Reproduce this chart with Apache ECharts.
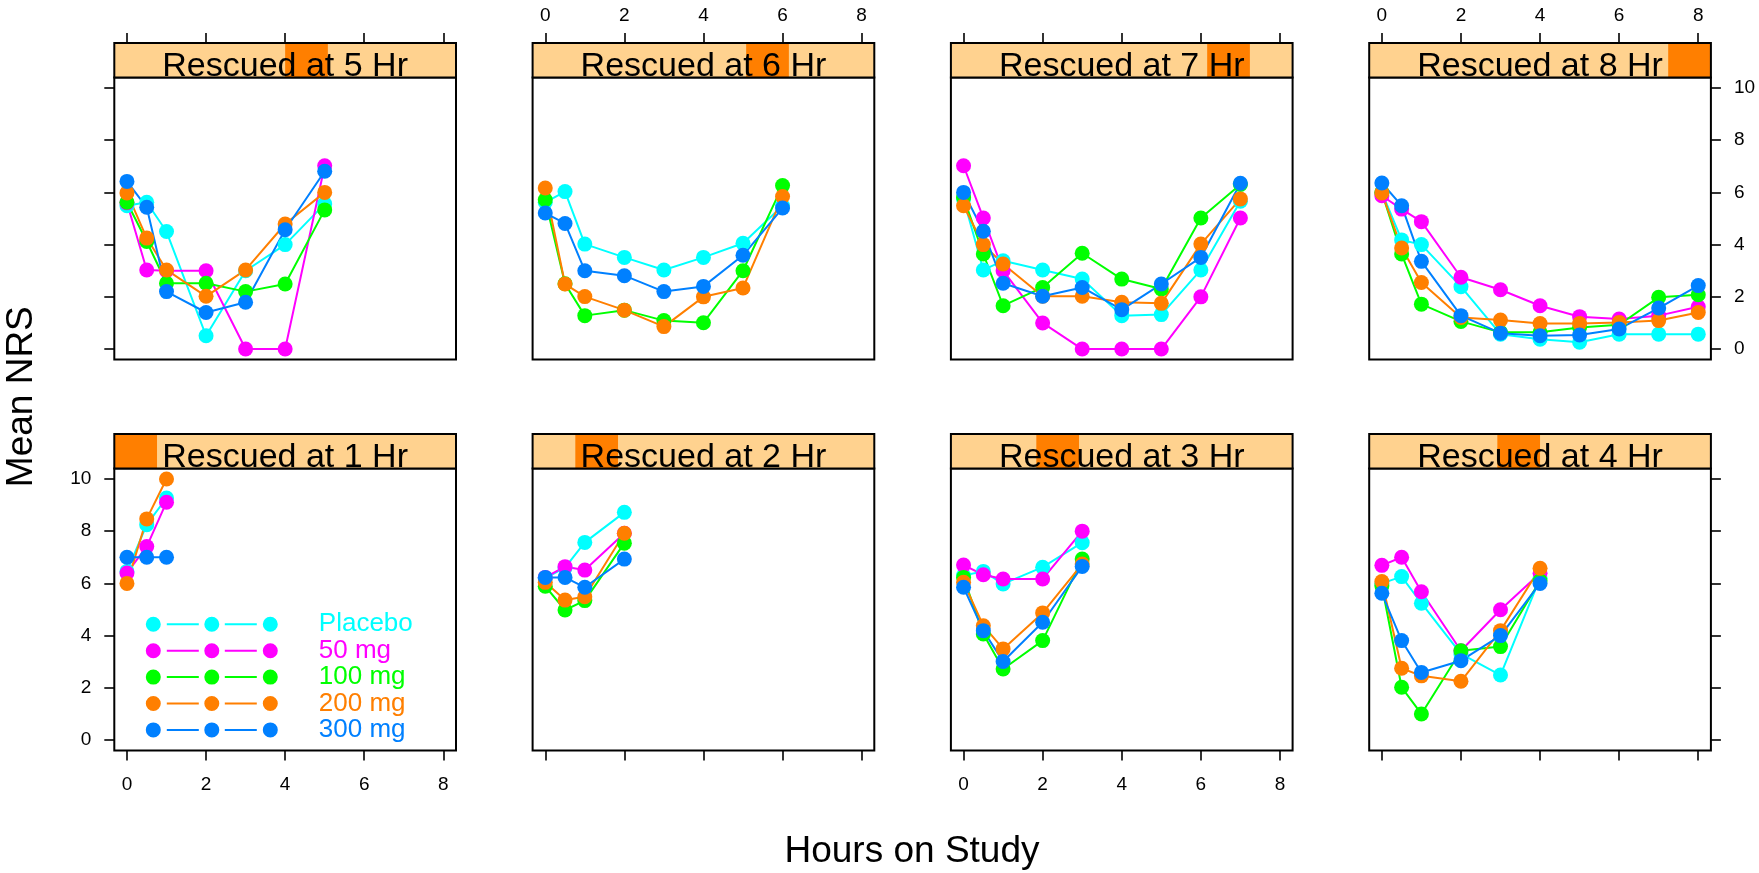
<!DOCTYPE html>
<html lang="en" style="height:100%">
<head>
    <meta charset="UTF-8">
    <title>Mean NRS by rescue time</title>
    <script src="https://cdn.jsdelivr.net/npm/echarts@6/dist/echarts.min.js"></script>
</head>
<body style="height:100%; margin:0; background:#fff">
<div id="container" style="width:1759px; height:873px"></div>
<script type="text/javascript">

    // time points (hours on study)
    var hours = [0, 0.5, 1, 2, 3, 4, 5, 6, 7, 8];
    var groupNames = ['Placebo', '50 mg', '100 mg', '200 mg', '300 mg'];
    var groupColors = ['#00FFFF', '#FF00FF', '#00FF00', '#FF7F00', '#0080FF'];
    var xTicks = [0, 2, 4, 6, 8];
    var yTicks = [0, 2, 4, 6, 8, 10];

    // mean NRS per group (Placebo, 50, 100, 200, 300 mg), one array per rescue hour
    var rescue1 = [
        [6.46, 8.25, 9.27],
        [6.4, 7.41, 9.11],
        null,
        [6.0, 8.47, 10.0],
        [7.0, 7.0, 7.0]
    ];
    var rescue2 = [
        [6.2, 6.6, 7.57, 8.72],
        [6.23, 6.64, 6.51, 7.92],
        [5.89, 4.98, 5.34, 7.54],
        [6.04, 5.36, 5.49, 7.92],
        [6.23, 6.23, 5.85, 6.93]
    ];
    var rescue3 = [
        [6.3, 6.46, 5.98, 6.62, 7.56],
        [6.7, 6.33, 6.17, 6.17, 8.0],
        [6.23, 4.06, 2.72, 3.81, 6.93],
        [6.04, 4.38, 3.49, 4.87, 6.74],
        [5.85, 4.19, 3.01, 4.51, 6.65]
    ];
    var rescue4 = [
        [6.0, 6.26, 5.24, 3.3, 2.49, 6.2],
        [6.69, 7.0, 5.68, 3.42, 4.99, 6.39],
        [5.91, 2.02, 1.0, 3.42, 3.58, 6.1],
        [6.07, 2.75, 2.46, 2.25, 4.19, 6.58],
        [5.62, 3.81, 2.59, 3.04, 4.0, 6.0]
    ];
    var rescue5 = [
        [5.49, 5.62, 4.5, 0.51, 3.0, 4.0, 5.56],
        [5.6, 3.03, 3.0, 3.0, 0, 0, 7.02],
        [5.62, 4.12, 2.52, 2.52, 2.2, 2.49, 5.33],
        [5.98, 4.25, 3.03, 2.02, 3.03, 4.79, 6.0],
        [6.42, 5.43, 2.2, 1.4, 1.79, 4.57, 6.81]
    ];
    var rescue6 = [
        [5.62, 6.03, 4.02, 3.51, 3.03, 3.51, 4.05, 5.49],
        null,
        [5.72, 2.5, 1.28, 1.49, 1.09, 1.01, 3.0, 6.26],
        [6.17, 2.49, 2.01, 1.49, 0.86, 2.0, 2.34, 5.84],
        [5.21, 4.81, 3.0, 2.81, 2.2, 2.4, 3.59, 5.4]
    ];
    var rescue7 = [
        [5.75, 3.03, 3.38, 3.03, 2.68, 1.28, 1.32, 3.03, 5.66],
        [7.02, 5.02, 3.0, 1.0, 0, 0, 0, 2.0, 5.02],
        [5.8, 3.64, 1.66, 2.36, 3.67, 2.68, 2.3, 5.02, 6.3],
        [5.49, 4.0, 3.26, 2.02, 2.02, 1.79, 1.75, 4.02, 5.75],
        [6.0, 4.51, 2.52, 2.02, 2.36, 1.51, 2.49, 3.51, 6.35]
    ];
    var rescue8 = [
        [6.0, 4.18, 4.0, 2.39, 0.57, 0.38, 0.26, 0.57, 0.57, 0.57],
        [5.87, 5.36, 4.88, 2.75, 2.27, 1.66, 1.24, 1.15, 1.28, 1.62],
        [6.0, 3.64, 1.72, 1.06, 0.64, 0.64, 0.83, 0.93, 1.98, 2.08],
        [5.98, 3.87, 2.55, 1.21, 1.11, 0.98, 0.98, 1.02, 1.09, 1.4],
        [6.36, 5.49, 3.36, 1.28, 0.61, 0.51, 0.54, 0.77, 1.57, 2.43]
    ];

    // panels left to right, top row first
    var panelHours = [5, 6, 7, 8, 1, 2, 3, 4];
    var panelData = [rescue5, rescue6, rescue7, rescue8, rescue1, rescue2, rescue3, rescue4];

    // layout (px)
    var left0 = 114.3, stepX = 418.3, panelW = 341.7;
    var top0 = 77.5, stepY = 391, panelH = 282, stripH = 34.5;
    var font = 'Liberation Sans, Arial, sans-serif';

    var dom = document.getElementById('container');
    var myChart = echarts.init(dom, null, {renderer: 'canvas'});

    var grids = [], xAxes = [], yAxes = [], series = [], graphics = [];

    for (var p = 0; p < 8; p++) {
        var col = p % 4, row = Math.floor(p / 4);
        var gl = left0 + col * stepX, gt = top0 + row * stepY;
        var k = panelHours[p];

        grids.push({
            left: gl, top: gt, width: panelW, height: panelH,
            show: true, borderColor: '#000', borderWidth: 2, backgroundColor: 'transparent'
        });

        // top row: axis sits above the strip
        var xLabel = row === 0 ? (col === 1 || col === 3) : (col === 0 || col === 2);
        xAxes.push({
            type: 'value', gridIndex: p, min: -0.32, max: 8.32,
            position: row === 0 ? 'top' : 'bottom',
            offset: row === 0 ? stripH : 0,
            axisLine: {show: false, onZero: false},
            splitLine: {show: false},
            axisTick: {show: true, length: 10, customValues: xTicks, lineStyle: {color: '#000', width: 1.6}},
            axisLabel: {
                show: xLabel, customValues: xTicks, margin: row === 0 ? 18 : 25,
                fontSize: 19, color: '#000', fontFamily: font
            }
        });

        var yShow = col === 0 || col === 3;
        var yLabel = (col === 0 && row === 1) || (col === 3 && row === 0);
        yAxes.push({
            type: 'value', gridIndex: p, min: -0.4, max: 10.4,
            show: yShow,
            position: col === 3 ? 'right' : 'left',
            axisLine: {show: false, onZero: false},
            splitLine: {show: false},
            axisTick: {show: true, length: 10, customValues: yTicks, lineStyle: {color: '#000', width: 1.6}},
            axisLabel: {
                show: yLabel, customValues: yTicks, margin: 23,
                fontSize: 19, color: '#000', fontFamily: font
            }
        });

        var groups = panelData[p];
        for (var g = 0; g < groupNames.length; g++) {
            var vals = groups[g];
            if (!vals) continue;
            series.push({
                name: groupNames[g],
                type: 'line',
                xAxisIndex: p, yAxisIndex: p,
                data: vals.map(function (v, i) { return [hours[i], v]; }),
                symbol: 'circle', symbolSize: 15, showAllSymbol: true,
                itemStyle: {color: groupColors[g], borderWidth: 0},
                lineStyle: {color: groupColors[g], width: 2},
                emphasis: {disabled: true},
                silent: true
            });
        }

        // strip
        var st = gt - stripH;
        graphics.push({type: 'rect', shape: {x: gl, y: st, width: panelW, height: stripH}, style: {fill: '#FFD28F'}});
        graphics.push({type: 'rect', shape: {x: gl + (k - 1) / 8 * panelW, y: st, width: panelW / 8, height: stripH}, style: {fill: '#FF7F00'}});
        graphics.push({
            type: 'text', x: gl + panelW / 2, y: gt - 0.33 * 34,
            style: {text: 'Rescued at ' + k + ' Hr', fontSize: 34, fontFamily: font, fill: '#000', align: 'center', verticalAlign: 'middle'}
        });
        graphics.push({type: 'rect', shape: {x: gl, y: st, width: panelW, height: stripH}, style: {fill: 'none', stroke: '#000', lineWidth: 2}});
    }

    // axis titles
    graphics.push({
        type: 'text', x: 912, y: 851.7,
        style: {text: 'Hours on Study', fontSize: 37, fontFamily: font, fill: '#000', align: 'center', verticalAlign: 'middle'}
    });
    graphics.push({
        type: 'text', x: 21.7, y: 396.7, rotation: Math.PI / 2,
        style: {text: 'Mean NRS', fontSize: 37, fontFamily: font, fill: '#000', align: 'center', verticalAlign: 'middle'}
    });

    // legend key: point - line - point - line - point
    var legendIcon = 'path://M0,7.5a7.5,7.5 0 1,0 15,0a7.5,7.5 0 1,0 -15,0Z' +
        'M21,6.5L53,6.5L53,8.5L21,8.5Z' +
        'M58.5,7.5a7.5,7.5 0 1,0 15,0a7.5,7.5 0 1,0 -15,0Z' +
        'M79,6.5L111,6.5L111,8.5L79,8.5Z' +
        'M117,7.5a7.5,7.5 0 1,0 15,0a7.5,7.5 0 1,0 -15,0Z';

    var option = {
        animation: false,
        backgroundColor: '#fff',
        textStyle: {fontFamily: font},
        grid: grids,
        xAxis: xAxes,
        yAxis: yAxes,
        legend: {
            left: 145.8, top: 611.3, orient: 'vertical', padding: 0,
            itemWidth: 132, itemHeight: 15, itemGap: 0.4,
            icon: legendIcon, selectedMode: false,
            itemStyle: {borderWidth: 0},
            textStyle: {fontSize: 26, fontFamily: font, padding: [0, 0, 0, 36]},
            data: groupNames.map(function (n, i) {
                return {name: n, textStyle: {color: groupColors[i], fontSize: 26, padding: [0, 0, 0, 36]}};
            })
        },
        graphic: graphics,
        series: series
    };

    if (option && typeof option === 'object') {
        myChart.setOption(option, true);
    }
</script>
</body>
</html>
